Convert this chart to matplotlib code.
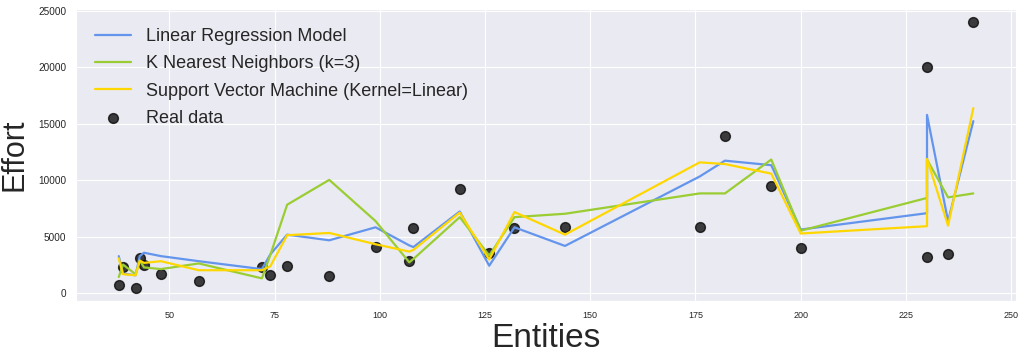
import matplotlib
matplotlib.use("Agg")
import matplotlib.pyplot as plt
import seaborn as sns

# entities (sorted) and effort values
entities = [38, 39, 42, 43, 44, 48, 57, 72, 74, 78, 88, 99, 107, 108, 119,
            126, 132, 144, 176, 182, 193, 200, 230, 230, 235, 241]
real_effort = [700, 2350, 500, 3150, 2500, 1700, 1100, 2300, 1600, 2450, 1500,
               4100, 2900, 5800, 9200, 3600, 5800, 5900, 5900, 13900, 9500,
               4000, 3200, 20000, 3500, 24000]
lr_pred = [3300, 1750, 1600, 3300, 3600, 3300, 2850, 2150, 3450, 5200, 4700,
           5850, 4250, 4100, 7250, 2450, 5850, 4200, 10350, 11750, 11350,
           5650, 7100, 15800, 6400, 15250]
knn_pred = [1450, 2550, 1700, 2900, 2300, 2150, 2650, 1330, 3400, 7850, 10050,
            6400, 2750, 3050, 6750, 3350, 6750, 7050, 8850, 8850, 11850,
            5550, 8450, 11850, 8500, 8850]
svm_pred = [3100, 1700, 1600, 2900, 2700, 2850, 2050, 2050, 2400, 5150, 5350,
            4350, 3700, 3850, 7150, 3000, 7200, 5200, 11600, 11450, 10600,
            5300, 5950, 11900, 6000, 16400]

x_ticks = [50, 75, 100, 125, 150, 175, 200, 225, 250]
y_ticks = [0, 5000, 10000, 15000, 20000, 25000]

sns.set_style("darkgrid")
plt.rcParams['font.family'] = ['Liberation Sans', 'DejaVu Sans']

fig = plt.figure(figsize=(10.26, 3.58), dpi=100)
ax = fig.add_axes([0.0741, 0.1592, 0.9162, 0.8156])

ax.plot(entities, lr_pred, color='cornflowerblue', lw=1.6, label='Linear Regression Model')
ax.plot(entities, knn_pred, color='yellowgreen', lw=1.6, label='K Nearest Neighbors (k=3)')
ax.plot(entities, svm_pred, color='gold', lw=1.6, label='Support Vector Machine (Kernel=Linear)')
ax.scatter(entities, real_effort, color='black', alpha=0.75, s=50, label='Real data')

ax.set_xticks(x_ticks)
ax.set_yticks(y_ticks)
ax.tick_params(axis='x', labelsize=6.5, colors='.15')
ax.tick_params(axis='y', labelsize=7.2, colors='.15')
ax.set_xlabel('Entities', fontsize=24, color='.15', labelpad=2)
ax.set_ylabel('Effort', fontsize=22, color='.15', labelpad=6)
ax.legend(loc='upper left', fontsize=13, frameon=False, labelspacing=0.57,
          borderpad=0.55)

fig.savefig('out.png', dpi=100)
